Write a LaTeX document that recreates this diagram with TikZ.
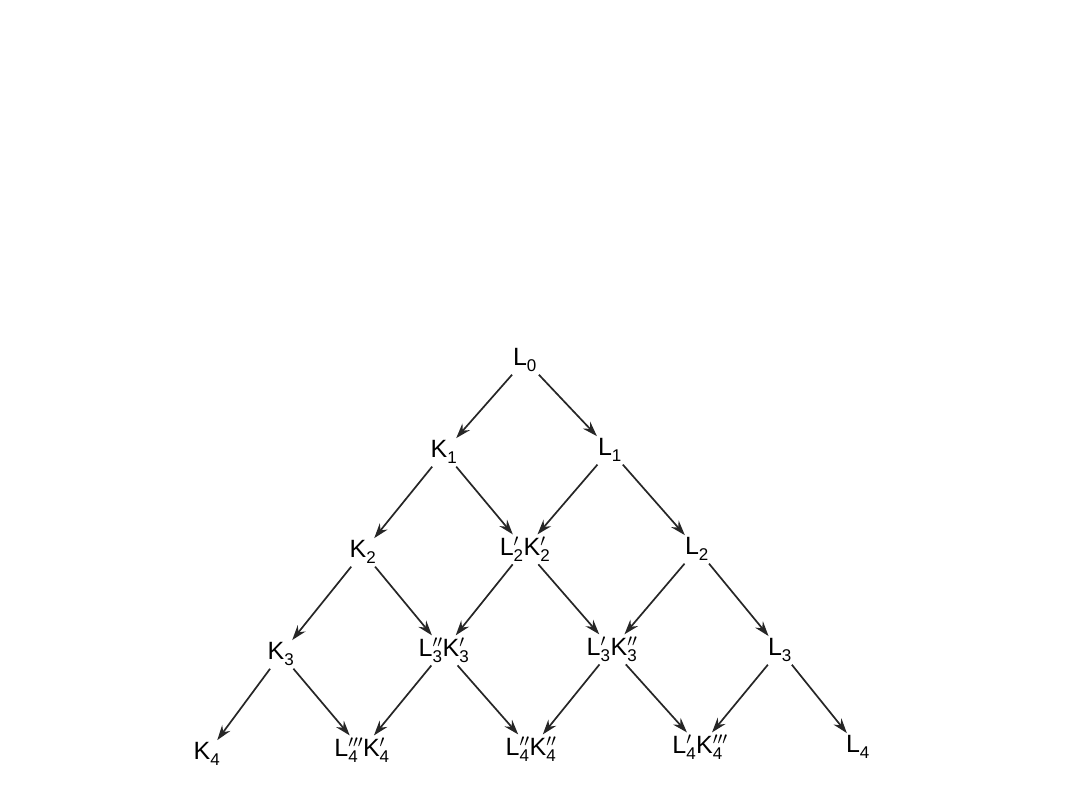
\documentclass[tikz,border=0pt]{standalone}
\usepackage{fontspec}
\setmainfont{Liberation Sans}
\usetikzlibrary{arrows.meta}
\newcommand\lbl[3]{#1$^{#2}_{\hbox{\fontsize{17}{17}\selectfont #3}}$}
\tikzset{
  vx/.style={inner sep=2pt, font=\fontsize{25}{28}\selectfont},
  arr/.style={line width=1.7pt, draw=black!85, -{Stealth[length=15pt,width=10pt,inset=5pt]}, shorten >=0pt, shorten <=1pt}
}
\begin{document}
\begin{tikzpicture}[x=1pt,y=-1pt]
\useasboundingbox[fill=white] (0,0) rectangle (1080,810);
\node[vx] (L0) at (525,360) {\lbl{L}{}{0}};
\node[vx] (K1) at (444,452) {\lbl{K}{}{1}};
\node[vx] (L1) at (610,450) {\lbl{L}{}{1}};
\node[vx] (K2) at (363,552) {\lbl{K}{}{2}};
\node[vx] (M2) at (525,549) {\lbl{L}{\prime}{2}\lbl{K}{\prime}{2}};
\node[vx] (L2) at (697,549) {\lbl{L}{}{2}};
\node[vx] (K3) at (281,654) {\lbl{K}{}{3}};
\node[vx] (A3) at (444,650) {\lbl{L}{\prime\prime}{3}\lbl{K}{\prime}{3}};
\node[vx] (B3) at (612,649) {\lbl{L}{\prime}{3}\lbl{K}{\prime\prime}{3}};
\node[vx] (L3) at (780,650) {\lbl{L}{}{3}};
\node[vx] (K4) at (207,754) {\lbl{K}{}{4}};
\node[vx] (A4) at (362,750) {\lbl{L}{\prime\prime\prime}{4}\lbl{K}{\prime}{4}};
\node[vx] (B4) at (531,749) {\lbl{L}{\prime\prime}{4}\lbl{K}{\prime\prime}{4}};
\node[vx] (C4) at (700,747) {\lbl{L}{\prime}{4}\lbl{K}{\prime\prime\prime}{4}};
\node[vx] (L4) at (858,747) {\lbl{L}{}{4}};
\draw[arr] (L0) -- (K1);
\draw[arr] (L0) -- (L1);
\draw[arr] (K1) -- (K2);
\draw[arr] (K1) -- (M2);
\draw[arr] (L1) -- (M2);
\draw[arr] (L1) -- (L2);
\draw[arr] (K2) -- (K3);
\draw[arr] (K2) -- (A3);
\draw[arr] (M2) -- (A3);
\draw[arr] (M2) -- (B3);
\draw[arr] (L2) -- (B3);
\draw[arr] (L2) -- (L3);
\draw[arr] (K3) -- (K4);
\draw[arr] (K3) -- (A4);
\draw[arr] (A3) -- (A4);
\draw[arr] (A3) -- (B4);
\draw[arr] (B3) -- (B4);
\draw[arr] (B3) -- (C4);
\draw[arr] (L3) -- (C4);
\draw[arr] (L3) -- (L4);
\end{tikzpicture}
\end{document}
